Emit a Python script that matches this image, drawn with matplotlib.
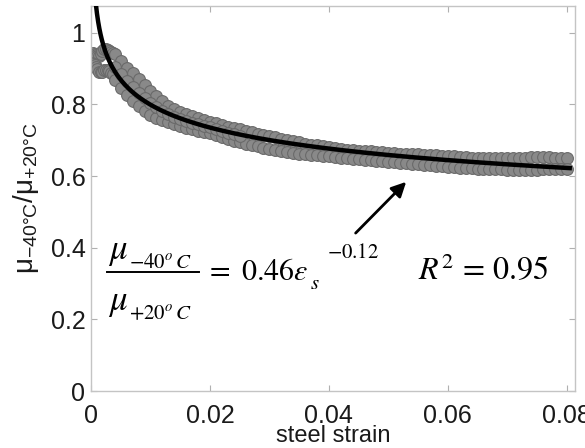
import numpy as np
import matplotlib
matplotlib.use("Agg")
import matplotlib.pyplot as plt
from matplotlib.transforms import IdentityTransform
from matplotlib.lines import Line2D

# ---------------- data ----------------
# early cluster near the origin
x_early = [0.0002, 0.0004, 0.0006, 0.0008, 0.0010, 0.0013, 0.0016, 0.0019,
           0.0022, 0.0025, 0.0028, 0.0031, 0.0034, 0.0037]
y_early_upper = [0.940, 0.944, 0.942, 0.938, 0.935, 0.935, 0.940, 0.948,
                 0.955, 0.955, 0.952, 0.950, 0.947, 0.943]
y_early_lower = [0.915, 0.912, 0.910, 0.905, 0.900, 0.892, 0.890, 0.890,
                 0.895, 0.897, 0.896, 0.893, 0.889, 0.884]

# main band: upper and lower envelope of the scatter
x_band = [round(0.004 + 0.001 * i, 3) for i in range(77)]
y_band_upper = [0.940, 0.922, 0.902, 0.887, 0.870, 0.854, 0.838, 0.823, 0.809, 0.796,
                0.788, 0.780, 0.773, 0.768, 0.763, 0.756, 0.750, 0.747, 0.742, 0.738,
                0.735, 0.731, 0.727, 0.723, 0.719, 0.715, 0.711, 0.708, 0.704, 0.701,
                0.697, 0.694, 0.691, 0.688, 0.686, 0.683, 0.680, 0.678, 0.676, 0.674,
                0.673, 0.671, 0.670, 0.669, 0.667, 0.666, 0.665, 0.664, 0.663, 0.662,
                0.662, 0.661, 0.660, 0.659, 0.658, 0.657, 0.656, 0.655, 0.654, 0.653,
                0.652, 0.651, 0.651, 0.651, 0.650, 0.650, 0.651, 0.651, 0.652, 0.652,
                0.653, 0.653, 0.653, 0.653, 0.652, 0.652, 0.651]
y_band_lower = [0.868, 0.846, 0.826, 0.810, 0.795, 0.782, 0.771, 0.763, 0.756, 0.750,
                0.745, 0.740, 0.735, 0.731, 0.727, 0.724, 0.721, 0.716, 0.710, 0.704,
                0.699, 0.695, 0.691, 0.687, 0.683, 0.679, 0.676, 0.673, 0.670, 0.667,
                0.665, 0.662, 0.661, 0.659, 0.658, 0.656, 0.655, 0.654, 0.652, 0.650,
                0.649, 0.647, 0.646, 0.645, 0.643, 0.642, 0.640, 0.639, 0.637, 0.636,
                0.634, 0.633, 0.631, 0.630, 0.628, 0.627, 0.626, 0.625, 0.624, 0.623,
                0.622, 0.621, 0.620, 0.620, 0.619, 0.619, 0.618, 0.618, 0.618, 0.618,
                0.618, 0.618, 0.619, 0.619, 0.619, 0.620, 0.620]
# middle row where the band is thick
x_mid = [0.004, 0.005, 0.006, 0.007, 0.008, 0.009, 0.010, 0.011, 0.012, 0.013,
         0.014, 0.015, 0.016, 0.017, 0.018, 0.019, 0.020, 0.021, 0.022, 0.023, 0.024, 0.025]
y_mid = [0.905, 0.885, 0.865, 0.848, 0.832, 0.818, 0.805, 0.793, 0.783, 0.773,
         0.766, 0.760, 0.754, 0.749, 0.745, 0.740, 0.736, 0.731, 0.726, 0.721, 0.717, 0.713]

# power-law fit shown on the chart: mu_ratio = a * eps^b
fit_a = 0.46
fit_b = -0.12
fit_r2 = 0.95
fit_x_min, fit_x_max = 0.0006, 0.0805

x_ticks = [0, 0.02, 0.04, 0.06, 0.08]
x_ticklabels = ["0", "0.02", "0.04", "0.06", "0.08"]
y_ticks = [0, 0.2, 0.4, 0.6, 0.8, 1.0]
y_ticklabels = ["0", "0.2", "0.4", "0.6", "0.8", "1"]

# ---------------- figure ----------------
plt.rcParams['font.family'] = ['Liberation Sans', 'DejaVu Sans']
plt.rcParams['mathtext.fontset'] = 'custom'
plt.rcParams['mathtext.rm'] = 'Liberation Sans'
plt.rcParams['mathtext.it'] = 'Liberation Sans:italic'
plt.rcParams['mathtext.bf'] = 'Liberation Sans:bold'

W, H = 585, 448
fig = plt.figure(figsize=(W / 100, H / 100), dpi=100)
ax = fig.add_axes([0.1556, 0.1272, 0.8274, 0.8594])

mk = dict(s=72, facecolor='#898989', edgecolor='#6a6a6a', linewidths=0.8, zorder=2)
ax.scatter(x_early, y_early_upper, **mk)
ax.scatter(x_early, y_early_lower, **mk)
ax.scatter(x_band, y_band_upper, **mk)
ax.scatter(x_band, y_band_lower, **mk)
ax.scatter(x_mid, y_mid, **mk)

xf = np.linspace(fit_x_min, fit_x_max, 400)
ax.plot(xf, fit_a * xf ** fit_b, color='black', lw=3.2, zorder=3)

ax.set_xlim(0, 0.0814)
ax.set_ylim(0, 1.075)
ax.set_xticks(x_ticks)
ax.set_xticklabels(x_ticklabels)
ax.set_yticks(y_ticks)
ax.set_yticklabels(y_ticklabels)

for sp in ax.spines.values():
    sp.set_color('#c4c4c4')
    sp.set_linewidth(1.0)
ax.tick_params(direction='in', length=4, width=0.8, color='#b0b0b0',
               labelsize=18, labelcolor='#1a1a1a', top=True, right=True)
ax.tick_params(axis='x', pad=9.5)
ax.tick_params(axis='y', pad=4)

ax.set_xlabel('steel strain', fontsize=17, color='#1a1a1a', labelpad=-2.5)
ax.set_ylabel(r'$\mathregular{μ_{-40°C}/μ_{+20°C}}$', fontsize=20,
              color='#1a1a1a', labelpad=7)

# ---------------- equation, built piece by piece (pixel layout) ----------------
ident = IdentityTransform()
renderer = fig.canvas.get_renderer()


def ptext(x, y_from_top, s, size):
    """Place math text with its baseline at pixel (x, y measured from the top)."""
    t = fig.text(x, H - y_from_top, s, transform=ident, fontsize=size,
                 math_fontfamily='stix', va='baseline', ha='left', color='black')
    return t.get_window_extent(renderer=renderer)


coef_txt = f'{fit_a:.2f}'
exp_txt = f'{fit_b:.2f}'

# numerator
bb = ptext(108, 259, r'$\mu$', 25)
ptext(bb.x1 + 1, 268, r'$-40^{o}\,C$', 15)
# fraction bar
fig.add_artist(Line2D([107, 199], [H - 272, H - 272], transform=ident,
                      color='black', lw=1.4))
# denominator
bb = ptext(108, 310, r'$\mu$', 25)
ptext(bb.x1 + 1, 320, r'$+20^{o}\,C$', 15)
# right-hand side
bb = ptext(205, 280, r'$=\ ' + coef_txt + r'\varepsilon$', 21.5)
bb = ptext(bb.x1 + 2, 289, r'$s$', 15)
ptext(bb.x1 + 7, 258, r'$' + exp_txt + r'$', 15)
# R^2
ax.text(0.0550, 0.310, r'$R^2\,=\,' + f'{fit_r2:.2f}' + r'$', math_fontfamily='stix',
        fontsize=23, va='baseline', ha='left', color='black')

ax.annotate('', xy=(0.0530, 0.584), xytext=(0.0445, 0.441),
            arrowprops=dict(arrowstyle='-|>', lw=2, color='black', mutation_scale=22,
                            shrinkA=0, shrinkB=0))

fig.savefig('out.png', dpi=100)
